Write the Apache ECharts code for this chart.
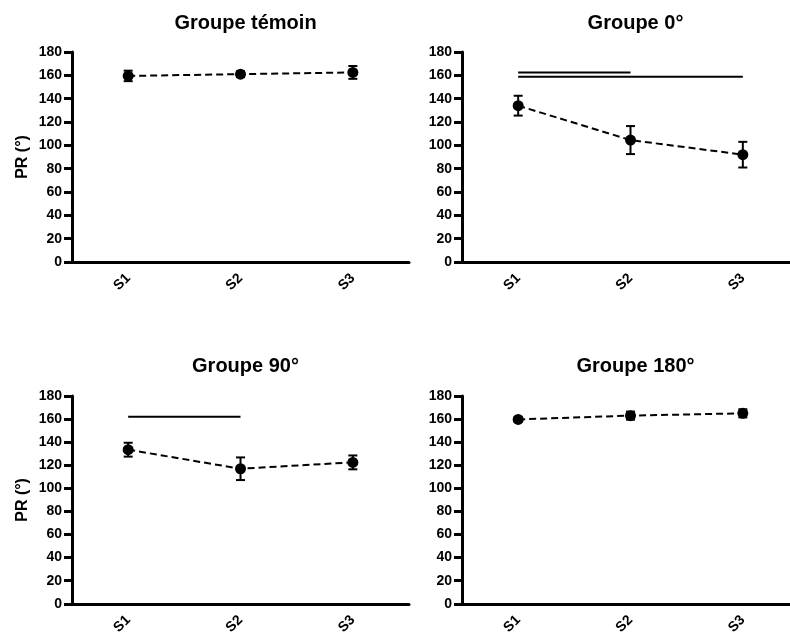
<!DOCTYPE html>
<html>
<head>
<meta charset="utf-8">
<script src="https://cdn.jsdelivr.net/npm/echarts@6/dist/echarts.min.js"></script>
<style>
html,body{margin:0;padding:0;background:#fff;overflow:hidden;width:790px;height:637px;}
#chart{width:800px;height:637px;}
</style>
</head>
<body>
<div id="chart"></div>
<script>
// ---- data ----
var categories = ['S1', 'S2', 'S3'];
var panelTitles = ['Groupe témoin', 'Groupe 0°', 'Groupe 90°', 'Groupe 180°'];
var yTicks = { min: 0, max: 180, interval: 20 };
var yName = 'PR (°)';

var temoinMean = [159.5, 161, 162.5];
var temoinErr  = [4.5, 2.5, 5.5];
var g0Mean     = [134, 104.5, 92];
var g0Err      = [8.5, 12, 11];
var g90Mean    = [133.5, 117, 122.5];
var g90Err     = [6, 9.8, 6];
var g180Mean   = [159.7, 163, 165];
var g180Err    = [2, 3.5, 3.5];

// significance bars: [fromCategory, toCategory, level]
var g0Sig   = [['S1', 'S2', 162.5], ['S1', 'S3', 158.8]];
var g90Sig  = [['S1', 'S2', 162]];
var temoinSig = [];
var g180Sig = [];

// ---- build ----
var means = [temoinMean, g0Mean, g90Mean, g180Mean];
var errs = [temoinErr, g0Err, g90Err, g180Err];
var sigs = [temoinSig, g0Sig, g90Sig, g180Sig];

var FONT = '"Liberation Sans", Arial, sans-serif';
var gridPos = [
  { left: 72, top: 52 },
  { left: 462, top: 52 },
  { left: 72, top: 396 },
  { left: 462, top: 396 }
];
var titleTops = [8, 8, 351, 351];

var grids = [], xAxes = [], yAxes = [], titles = [], series = [];
gridPos.forEach(function (g, i) {
  grids.push({ left: g.left, top: g.top, width: 337, height: 210, containLabel: false });
  titles.push({
    text: panelTitles[i], left: g.left + 168.5, top: titleTops[i], textAlign: 'center',
    textStyle: { fontFamily: FONT, fontWeight: 'bold', fontSize: 20, color: '#000' }
  });
  xAxes.push({
    type: 'category', gridIndex: i, data: categories, boundaryGap: true,
    axisLine: { lineStyle: { color: '#000', width: 3 } },
    axisTick: { alignWithLabel: true, length: 7, lineStyle: { color: '#000', width: 3 } },
    axisLabel: { rotate: 45, margin: 14, color: '#000', fontFamily: FONT, fontWeight: 'bold', fontSize: 14 },
    splitLine: { show: false }
  });
  yAxes.push({
    type: 'value', gridIndex: i, min: yTicks.min, max: yTicks.max, interval: yTicks.interval,
    name: (i % 2 === 0) ? yName : '', nameLocation: 'middle', nameGap: 41, nameRotate: 90,
    nameTextStyle: { fontFamily: FONT, fontWeight: 'bold', fontSize: 16, color: '#000' },
    axisLine: { show: true, lineStyle: { color: '#000', width: 3 } },
    axisTick: { show: true, length: 8, lineStyle: { color: '#000', width: 3 } },
    axisLabel: { margin: 10, color: '#000', fontFamily: FONT, fontWeight: 'bold', fontSize: 14 },
    splitLine: { show: false }
  });
  series.push({
    type: 'line', xAxisIndex: i, yAxisIndex: i, data: means[i],
    symbol: 'circle', symbolSize: 11,
    itemStyle: { color: '#000' },
    lineStyle: { color: '#000', width: 2, type: [7, 4] },
    z: 3, animation: false
  });
  var ebData = categories.map(function (c, k) {
    return [k, means[i][k] - errs[i][k], means[i][k] + errs[i][k]];
  });
  series.push({
    type: 'custom', xAxisIndex: i, yAxisIndex: i, data: ebData, z: 4, animation: false,
    renderItem: function (params, api) {
      var lo = api.coord([api.value(0), api.value(1)]);
      var hi = api.coord([api.value(0), api.value(2)]);
      var w = 4.5;
      var st = { stroke: '#000', lineWidth: 2 };
      return {
        type: 'group',
        children: [
          { type: 'line', shape: { x1: lo[0], y1: lo[1], x2: hi[0], y2: hi[1] }, style: st },
          { type: 'line', shape: { x1: lo[0] - w, y1: lo[1], x2: lo[0] + w, y2: lo[1] }, style: st },
          { type: 'line', shape: { x1: hi[0] - w, y1: hi[1], x2: hi[0] + w, y2: hi[1] }, style: st }
        ]
      };
    }
  });
  sigs[i].forEach(function (s) {
    series.push({
      type: 'line', xAxisIndex: i, yAxisIndex: i,
      data: [[s[0], s[2]], [s[1], s[2]]],
      symbol: 'none', lineStyle: { color: '#000', width: 2 }, z: 2, animation: false
    });
  });
});

var chart = echarts.init(document.getElementById('chart'), null, { renderer: 'canvas' });
chart.setOption({
  backgroundColor: '#fff',
  animation: false,
  title: titles,
  grid: grids,
  xAxis: xAxes,
  yAxis: yAxes,
  series: series
});
</script>
</body>
</html>
